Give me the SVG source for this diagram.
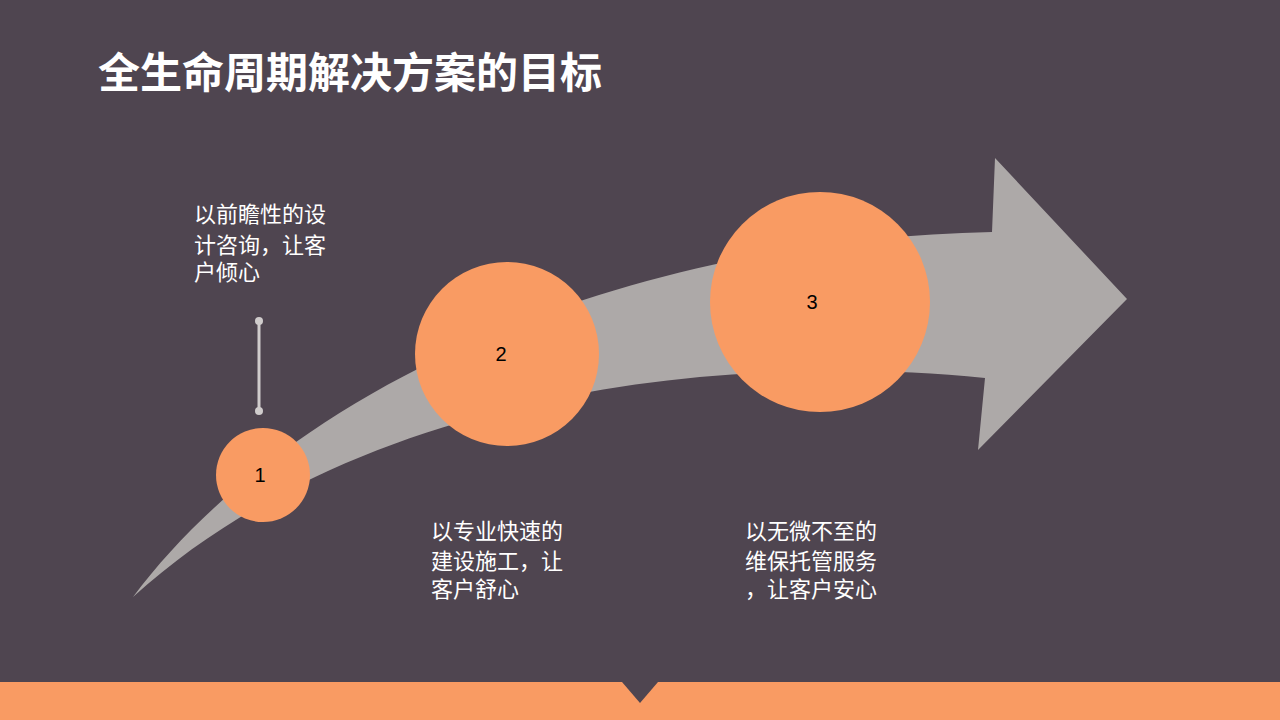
<svg xmlns="http://www.w3.org/2000/svg" width="1280" height="720" viewBox="0 0 1280 720">
<style>
.t{font-family:"Liberation Sans","Noto Sans CJK SC",sans-serif;fill:#fff;font-size:22px}
.n{font-family:"Liberation Sans","Noto Sans CJK SC",sans-serif;fill:#000;font-size:20px;text-anchor:middle}
.c{fill:#F99B63}
</style>
<rect width="1280" height="720" fill="#4F4550"/>
<text x="98" y="88" font-family="'Liberation Sans','Noto Sans CJK SC',sans-serif" font-size="42" font-weight="bold" fill="#fff">全生命周期解决方案的目标</text>
<g id="arrow"><path d="M133,597 C280,400 600,240 992,232 L995,158 L1127,299 L978,450 L985,378 C700,350 350,400 133,597 Z" fill="#ADA9A8"/></g>
<g id="connectors"><line x1="259" y1="321" x2="259" y2="411" stroke="#D0CCCC" stroke-width="3"/><circle cx="259" cy="321" r="4" fill="#D0CCCC"/><circle cx="259" cy="411" r="4" fill="#D0CCCC"/></g>
<g id="n1"><circle class="c" cx="263" cy="475" r="47"/><text class="n" x="260" y="482">1</text></g>
<g id="n2"><circle class="c" cx="507" cy="354" r="92"/><text class="n" x="501" y="361">2</text></g>
<g id="n3"><circle class="c" cx="820" cy="302" r="110"/><text class="n" x="812" y="309">3</text></g>
<g id="t1"><text class="t" x="194" y="222">以前瞻性的设</text><text class="t" x="194" y="253">计咨询，让客</text><text class="t" x="194" y="280">户倾心</text></g>
<g id="t2"><text class="t" x="431" y="539">以专业快速的</text><text class="t" x="431" y="569">建设施工，让</text><text class="t" x="431" y="597">客户舒心</text></g>
<g id="t3"><text class="t" x="745" y="539">以无微不至的</text><text class="t" x="745" y="569">维保托管服务</text><text class="t" x="745" y="597">，让客户安心</text></g>
<g id="bar"><rect y="682" width="1280" height="38" fill="#F99B63"/><path d="M622,682 L658,682 L640,703 Z" fill="#4F4550"/></g>
</svg>
